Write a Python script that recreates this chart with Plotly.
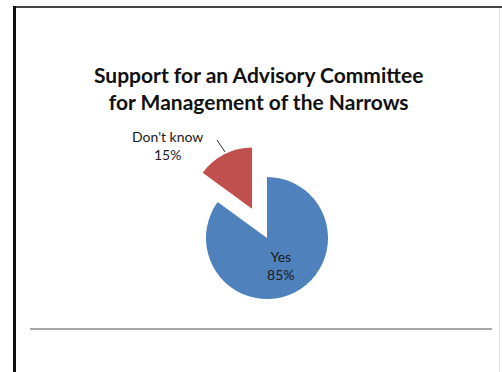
import plotly.graph_objects as go

# data
labels = ["Yes", "Don't know"]
values = [85, 15]
colors = ['#4F81BD', '#C0504D']

W, H = 502, 372

def px(x):
    return x / W

def py(y):
    return 1 - y / H

fig = go.Figure()

fig.add_trace(go.Pie(
    labels=labels,
    values=values,
    sort=False,
    direction='clockwise',
    rotation=0,
    pull=[0, 0.54],
    marker=dict(colors=colors, line=dict(width=0)),
    textposition=['inside', 'none'],
    texttemplate='%{label}<br>%{percent:.0%}',
    insidetextfont=dict(size=14, color='#1a1a1a', family='Lato'),
    hoverinfo='label+percent',
    showlegend=False,
    domain=dict(x=[px(173), px(361)], y=[py(332), py(144)]),
))

# outside label for the pulled slice
fig.add_annotation(
    x=px(167), y=py(145), xref='paper', yref='paper',
    xanchor='center', yanchor='middle',
    text=f"{labels[1]}<br>{values[1]}%",
    showarrow=False,
    font=dict(size=14, color='#1a1a1a', family='Lato'),
    align='center',
)

# title
fig.add_annotation(
    x=px(258), y=py(88), xref='paper', yref='paper',
    xanchor='center', yanchor='middle',
    text='<b>Support for an Advisory Committee<br>for Management of the Narrows</b>',
    showarrow=False,
    font=dict(size=21, color='#111111', family='Lato'),
    align='center',
)

fig.update_layout(
    width=W, height=H,
    margin=dict(l=0, r=0, t=0, b=0),
    paper_bgcolor='white',
    plot_bgcolor='white',
    shapes=[
        # leader line
        dict(type='line', xref='paper', yref='paper',
             x0=px(217), y0=py(140), x1=px(225), y1=py(152),
             line=dict(color='#333333', width=1)),
        # frame
        dict(type='line', xref='paper', yref='paper',
             x0=px(14.5), y0=py(7), x1=px(502), y1=py(7),
             line=dict(color='#444444', width=2)),
        dict(type='line', xref='paper', yref='paper',
             x0=px(14.5), y0=py(6), x1=px(14.5), y1=py(372),
             line=dict(color='#111111', width=3)),
        dict(type='line', xref='paper', yref='paper',
             x0=px(499.5), y0=py(8), x1=px(499.5), y1=py(372),
             line=dict(color='#e6e6e6', width=1)),
        # bottom divider
        dict(type='line', xref='paper', yref='paper',
             x0=px(30), y0=py(329), x1=px(492), y1=py(329),
             line=dict(color='#a6a6a6', width=2)),
    ],
)

fig.write_html("out.html", config={'displayModeBar': False},
               post_script="document.body.style.margin='0';")
